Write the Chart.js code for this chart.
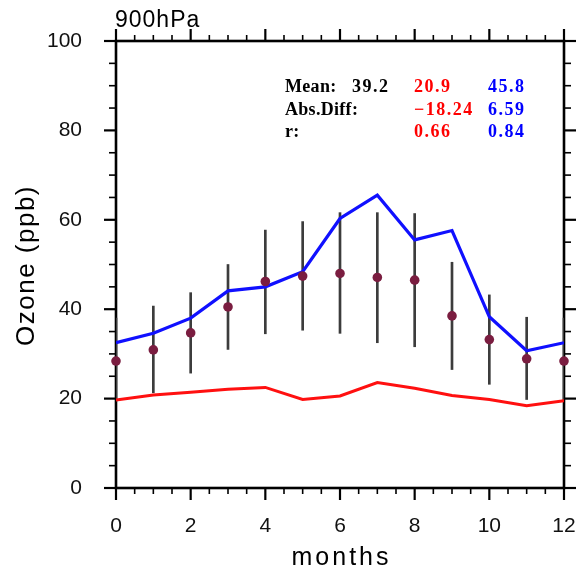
<!DOCTYPE html>
<html>
<head>
<meta charset="utf-8">
<script src="https://cdn.jsdelivr.net/npm/chart.js@4.4.1/dist/chart.umd.min.js"></script>
<style>
  html, body { margin: 0; padding: 0; background: #fff; }
  canvas { display: block; }
</style>
</head>
<body>
<canvas id="chart" width="583" height="573"></canvas>
<script>
// ── datos ──
const months    = [0, 1, 2, 3, 4, 5, 6, 7, 8, 9, 10, 11, 12];
const obsMean   = [28.4, 30.9, 34.7, 40.5, 46.2, 47.4, 48.0, 47.1, 46.5, 38.5, 33.2, 28.9, 28.4];
const obsLow    = [19.5, 21.3, 25.7, 31.0, 34.5, 35.3, 34.6, 32.5, 31.6, 26.5, 23.2, 19.8, 19.5];
const obsHigh   = [38.0, 40.7, 43.7, 50.0, 57.7, 59.6, 61.6, 61.6, 61.4, 50.5, 43.2, 38.2, 38.0];
const modelRed  = [19.7, 20.8, 21.4, 22.1, 22.5, 19.8, 20.6, 23.6, 22.3, 20.7, 19.8, 18.4, 19.5];
const modelBlue = [32.5, 34.6, 38.0, 44.1, 45.0, 48.4, 60.3, 65.5, 55.5, 57.6, 38.3, 30.7, 32.5];

const yTicks = [0, 20, 40, 60, 80, 100];
const xTicks = [0, 2, 4, 6, 8, 10, 12];

const statLabels = ['Mean:', 'Abs.Diff:', 'r:'];
const statObs    = ['39.2', '', ''];
const statRed    = ['20.9', '\u221218.24', '0.66'];
const statBlue   = ['45.8', '6.59', '0.84'];

const panelTitle = '900hPa';
const xTitle = 'months';
const yTitle = 'Ozone (ppb)';

const SANS = "'Liberation Sans', Arial, sans-serif";
const SERIF = "'Liberation Serif', 'Times New Roman', serif";

// ── marco y marcas de ejes (estilo NCL, hacia afuera) ──
const frameTicks = {
  id: 'frameTicks',
  beforeDatasetsDraw(chart) {
    const { ctx, chartArea: a, scales: { x, y } } = chart;
    ctx.save();
    ctx.strokeStyle = '#000';
    ctx.lineCap = 'butt';
    const tick = (x1, y1, x2, y2, w) => {
      ctx.lineWidth = w;
      ctx.beginPath(); ctx.moveTo(x1, y1); ctx.lineTo(x2, y2); ctx.stroke();
    };
    for (let v = 0; v <= 12.001; v += 0.5) {
      const px = x.getPixelForValue(v);
      const major = Math.abs(v % 2) < 1e-6;
      const len = major ? 12 : 6;
      const w = major ? 2.2 : 1.6;
      tick(px, a.bottom, px, a.bottom + len, w);
      tick(px, a.top, px, a.top - len, w);
    }
    for (let v = 0; v <= 100.001; v += 5) {
      const py = y.getPixelForValue(v);
      const major = v % 20 === 0;
      const len = major ? 12 : 7;
      const w = major ? 2.2 : 1.6;
      tick(a.left, py, a.left - len, py, w);
      tick(a.right, py, a.right + len, py, w);
    }
    ctx.lineWidth = 2.6;
    ctx.strokeRect(a.left, a.top, a.right - a.left, a.bottom - a.top);
    ctx.restore();
  }
};

// ── textos: título del panel, ejes y estadísticas ──
const textos = {
  id: 'textos',
  afterDraw(chart) {
    const { ctx, chartArea: a } = chart;
    ctx.save();
    ctx.fillStyle = '#000';
    ctx.textBaseline = 'alphabetic';

    ctx.font = `23px ${SANS}`;
    ctx.letterSpacing = '1px';
    ctx.textAlign = 'left';
    ctx.fillText(panelTitle, a.left - 1, 27);

    ctx.font = `25px ${SANS}`;
    ctx.letterSpacing = '3px';
    ctx.textAlign = 'center';
    ctx.fillText(xTitle, (a.left + a.right) / 2 + 1.5, 565);

    ctx.save();
    ctx.translate(34, (a.top + a.bottom) / 2 + 1);
    ctx.rotate(-Math.PI / 2);
    ctx.font = `26px ${SANS}`;
    ctx.letterSpacing = '1.5px';
    ctx.fillText(yTitle, 0, 0);
    ctx.restore();

    const baseY = [92, 115, 137];
    ctx.textAlign = 'left';
    statLabels.forEach((lab, i) => {
      ctx.font = `bold 18px ${SERIF}`;
      ctx.letterSpacing = '0.3px';
      ctx.fillStyle = '#000';
      ctx.fillText(lab, 285, baseY[i]);
      ctx.letterSpacing = '1.5px';
      if (statObs[i]) ctx.fillText(statObs[i], 352, baseY[i]);
      ctx.fillStyle = '#ff0000';
      ctx.fillText(statRed[i], 414, baseY[i]);
      ctx.fillStyle = '#0000ff';
      ctx.fillText(statBlue[i], 488, baseY[i]);
    });
    ctx.restore();
  }
};

const errBars = months.map((m, i) => ({ x: m, y: [obsLow[i], obsHigh[i]] }));
const pts = (arr) => months.map((m, i) => ({ x: m, y: arr[i] }));

new Chart(document.getElementById('chart'), {
  type: 'line',
  data: {
    datasets: [
      {
        type: 'bar',
        label: 'obs range',
        data: errBars,
        backgroundColor: '#3c3c3c',
        borderWidth: 0,
        barThickness: 2,
        order: 4
      },
      {
        label: 'model red',
        data: pts(modelRed),
        borderColor: '#ff1010',
        borderWidth: 3,
        pointRadius: 0,
        tension: 0,
        fill: false,
        order: 3
      },
      {
        label: 'model blue',
        data: pts(modelBlue),
        borderColor: '#1010ff',
        borderWidth: 3.2,
        pointRadius: 0,
        tension: 0,
        fill: false,
        order: 2
      },
      {
        label: 'obs mean',
        data: pts(obsMean),
        showLine: false,
        pointRadius: 4.8,
        pointBackgroundColor: '#7a1d40',
        pointBorderWidth: 0,
        clip: false,
        order: 1
      }
    ]
  },
  options: {
    responsive: false,
    animation: false,
    devicePixelRatio: 1,
    layout: { padding: { left: 0, right: 19, top: 41, bottom: 0 } },
    plugins: { legend: { display: false }, tooltip: { enabled: false } },
    scales: {
      x: {
        type: 'linear',
        min: 0, max: 12,
        offset: false,
        grid: { display: false, offset: false },
        border: { display: false },
        afterBuildTicks: (s) => { s.ticks = xTicks.map(v => ({ value: v })); },
        ticks: { font: { family: SANS, size: 21 }, color: '#111', padding: 18, maxRotation: 0 },
        afterFit: (s) => { s.height = 85; s.paddingLeft = 0; s.paddingRight = 0; }
      },
      y: {
        min: 0, max: 100,
        grid: { display: false },
        border: { display: false },
        afterBuildTicks: (s) => { s.ticks = yTicks.map(v => ({ value: v })); },
        ticks: { font: { family: SANS, size: 21 }, color: '#111', padding: 26 },
        afterFit: (s) => { s.width = 116; s.paddingTop = 0; s.paddingBottom = 0; }
      }
    }
  },
  plugins: [frameTicks, textos]
});
</script>
</body>
</html>
